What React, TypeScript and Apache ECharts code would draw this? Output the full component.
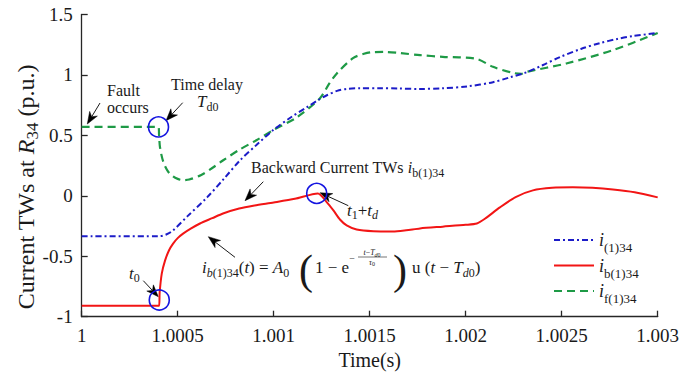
import React, { useEffect, useRef } from "react";
import * as echarts from "echarts";

const FONT = "'Liberation Serif', 'Times New Roman', Times, serif";
const INK = "#1a1a1a";

// ---- data (time in s, current TW in p.u.) ----
const blueT = [1, 1.0004, 1.00044, 1.000475, 1.00055, 1.000653, 1.00074, 1.000825, 1.00091, 1.000996, 1.00109, 1.001173, 1.00123, 1.001277, 1.00133, 1.001382, 1.00145, 1.00155, 1.00165, 1.00176, 1.00188, 1.002007, 1.002142, 1.00223, 1.002319, 1.0024, 1.002491, 1.0026, 1.0027, 1.00279, 1.002871, 1.003];
const blueV = [-0.335, -0.335, -0.32, -0.287, -0.17, -0.013, 0.14, 0.294, 0.42, 0.542, 0.65, 0.733, 0.79, 0.832, 0.868, 0.885, 0.89, 0.89, 0.888, 0.884, 0.89, 0.905, 0.94, 0.98, 1.023, 1.08, 1.148, 1.215, 1.264, 1.298, 1.322, 1.347];

const redT = [1, 1.000403, 1.000406, 1.000417, 1.000434, 1.000455, 1.000476, 1.0005, 1.000528, 1.00057, 1.000616, 1.00068, 1.000736, 1.00082, 1.0009, 1.001, 1.00111, 1.00123, 1.001276, 1.001311, 1.001345, 1.00138, 1.001432, 1.001519, 1.001621, 1.00169, 1.001762, 1.00188, 1.002, 1.002058, 1.0021, 1.002178, 1.00226, 1.00235, 1.00245, 1.002558, 1.00266, 1.002767, 1.00288, 1.003];
const redV = [-0.909, -0.909, -0.8, -0.643, -0.536, -0.45, -0.395, -0.35, -0.313, -0.27, -0.229, -0.185, -0.146, -0.105, -0.08, -0.055, -0.025, 0.02, -0.052, -0.121, -0.196, -0.245, -0.279, -0.293, -0.295, -0.285, -0.27, -0.255, -0.24, -0.229, -0.19, -0.096, -0.01, 0.045, 0.066, 0.07, 0.066, 0.053, 0.03, -0.013];

const greenT = [1, 1.0004, 1.000403, 1.000408, 1.000425, 1.00045, 1.000476, 1.0005, 1.000528, 1.00056, 1.00062, 1.00068, 1.000737, 1.00082, 1.00091, 1.000996, 1.001121, 1.001241, 1.00129, 1.00133, 1.001413, 1.00147, 1.001517, 1.00158, 1.001658, 1.001762, 1.00188, 1.002056, 1.002142, 1.002246, 1.00229, 1.002318, 1.002524, 1.002768, 1.003];
const greenV = [0.57, 0.57, 0.5, 0.4, 0.28, 0.2, 0.16, 0.14, 0.13, 0.135, 0.17, 0.23, 0.294, 0.38, 0.46, 0.542, 0.65, 0.808, 0.93, 1.015, 1.139, 1.175, 1.189, 1.19, 1.181, 1.164, 1.15, 1.133, 1.067, 1.017, 1.01, 1.026, 1.095, 1.206, 1.347];

const seriesNames = ["i(1)34", "ib(1)34", "if(1)34"];
const legendLabels = ["{i|i}{s|(1)34}", "{i|i}{s|b(1)34}", "{i|i}{s|f(1)34}"];

// annotation anchor points (data coords)
const circlePts: [number, number][] = [[1.0004, 0.57], [1.000404, -0.862], [1.001224, 0.02]];

const zip = (t: number[], v: number[]) => t.map((x, i) => [x, v[i]]);

function richSet(F: number, S: number, P: number) {
  const base = { fontFamily: FONT, fill: INK, color: INK };
  return {
    n: { ...base, fontSize: F, lineHeight: F, verticalAlign: "top" },
    it: { ...base, fontSize: F, lineHeight: F, verticalAlign: "top", fontStyle: "italic" },
    s: { ...base, fontSize: S, lineHeight: S, verticalAlign: "top", padding: [P, 0, 0, 0] },
    si: { ...base, fontSize: S, lineHeight: S, verticalAlign: "top", padding: [P, 0, 0, 0], fontStyle: "italic" },
  };
}

function rtext(x: number, yCenter: number, F: number, S: number, P: number, text: string, align = "left") {
  return {
    type: "text",
    x,
    y: yCenter - F / 2,
    silent: true,
    style: {
      text,
      rich: richSet(F, S, P),
      align,
      textAlign: align,
      verticalAlign: "top",
      textVerticalAlign: "top",
      fill: INK,
      fontFamily: FONT,
      fontSize: F,
    },
  };
}

function ptext(x: number, y: number, size: number, text: string, opts: any = {}) {
  return {
    type: "text",
    x,
    y,
    silent: true,
    style: {
      text,
      fill: INK,
      fontFamily: FONT,
      fontSize: size,
      fontStyle: opts.italic ? "italic" : "normal",
      align: opts.align || "left",
      textAlign: opts.align || "left",
      verticalAlign: "middle",
      textVerticalAlign: "middle",
    },
  };
}

function arrow(x1: number, y1: number, x2: number, y2: number) {
  const dx = x2 - x1, dy = y2 - y1;
  const L = Math.hypot(dx, dy);
  const ux = dx / L, uy = dy / L;
  const px = -uy, py = ux;
  const hl = 12, hw = 4.5, notch = 8.5;
  const bx = x2 - ux * hl, by = y2 - uy * hl;
  const nx = x2 - ux * notch, ny = y2 - uy * notch;
  return [
    { type: "line", silent: true, shape: { x1, y1, x2: nx, y2: ny }, style: { stroke: INK, lineWidth: 1 } },
    {
      type: "polygon",
      silent: true,
      shape: { points: [[x2, y2], [bx + px * hw, by + py * hw], [nx, ny], [bx - px * hw, by - py * hw]] },
      style: { fill: "#000", stroke: "#000", lineWidth: 0.5 },
    },
  ];
}

export default function App() {
  const ref = useRef<HTMLDivElement>(null);
  useEffect(() => {
    const chart = echarts.init(ref.current!, null, { renderer: "svg" });
    const axisStyle = { lineStyle: { color: "#262626", width: 1.3 } };
    const option: any = {
      animation: false,
      backgroundColor: "#ffffff",
      grid: { left: 81.7, right: 39.3, top: 14.5, bottom: 61.3, containLabel: false },
      xAxis: {
        type: "value",
        min: 1,
        max: 1.003,
        interval: 0.0005,
        name: "Time(s)",
        nameLocation: "middle",
        nameGap: 30,
        nameTextStyle: { fontFamily: FONT, fontSize: 20, color: INK },
        axisLine: { show: true, onZero: false, ...axisStyle },
        axisTick: { show: true, inside: true, length: 6, lineStyle: { color: "#262626", width: 1.3 } },
        axisLabel: {
          fontFamily: FONT,
          fontSize: 19,
          color: INK,
          margin: 9,
          formatter: (v: number) => String(parseFloat(v.toFixed(4))),
        },
        splitLine: { show: false },
      },
      yAxis: {
        type: "value",
        min: -1,
        max: 1.5,
        interval: 0.5,
        axisLine: { show: true, onZero: false, ...axisStyle },
        axisTick: { show: true, inside: true, length: 6, lineStyle: { color: "#262626", width: 1.3 } },
        axisLabel: {
          fontFamily: FONT,
          fontSize: 19,
          color: INK,
          margin: 9,
          formatter: (v: number) => String(parseFloat(v.toFixed(2))),
        },
        splitLine: { show: false },
      },
      legend: {
        orient: "vertical",
        left: 548,
        top: 226,
        itemWidth: 40,
        itemHeight: 14,
        itemGap: 2.5,
        data: seriesNames,
        itemStyle: { opacity: 0, borderWidth: 0 },
        formatter: (name: string) => legendLabels[seriesNames.indexOf(name)],
        textStyle: {
          rich: {
            i: { fontFamily: FONT, fontSize: 18, lineHeight: 18, verticalAlign: "top", fontStyle: "italic", color: INK },
            s: { fontFamily: FONT, fontSize: 13, lineHeight: 13, verticalAlign: "top", padding: [10, 0, 0, 0], color: INK },
          },
        },
      },
      series: [
        {
          name: seriesNames[0],
          type: "line",
          data: zip(blueT, blueV),
          symbol: "none",
          smooth: 0.3,
          lineStyle: { color: "#1c1cc8", width: 2, type: [6, 3, 2, 3] },
          itemStyle: { color: "#1c1cc8" },
          z: 3,
        },
        {
          name: seriesNames[1],
          type: "line",
          data: zip(redT, redV),
          symbol: "none",
          smooth: 0.25,
          lineStyle: { color: "#f21515", width: 2, type: "solid" },
          itemStyle: { color: "#f21515" },
          z: 4,
        },
        {
          name: seriesNames[2],
          type: "line",
          data: zip(greenT, greenV),
          symbol: "none",
          smooth: 0.3,
          lineStyle: { color: "#1e9a46", width: 2.2, type: [8, 5] },
          itemStyle: { color: "#1e9a46" },
          z: 2,
        },
      ],
    };
    chart.setOption(option);

    const circles = circlePts.map((p) => {
      const [cx, cy] = chart.convertToPixel({ gridIndex: 0 }, p) as number[];
      return {
        type: "circle",
        silent: true,
        z: 100,
        shape: { cx, cy, r: 10 },
        style: { fill: "none", stroke: "#1515e0", lineWidth: 1.6 },
      };
    });

    const graphics: any[] = [
      // y axis name
      {
        type: "text",
        x: 26,
        y: 187,
        rotation: Math.PI / 2,
        silent: true,
        style: {
          text: "{n|Current TWs at\u00a0}{it|R}{s|34}{n|\u00a0(p.u.)}",
          rich: richSet(24, 17, 10),
          align: "center",
          textAlign: "center",
          verticalAlign: "middle",
          textVerticalAlign: "middle",
          fill: INK,
          fontFamily: FONT,
        },
      },
      ptext(107, 90, 16, "Fault"),
      ptext(107, 107, 16, "occurs"),
      ptext(207, 84, 16, "Time delay", { align: "center" }),
      rtext(197, 101, 17, 12, 8, "{it|T}{s|d0}"),
      rtext(251, 167, 16, 12, 8, "{n|Backward Current TWs\u00a0}{it|i}{s|b(1)34}"),
      rtext(347, 210, 17, 12, 7, "{it|t}{s|1}{n|+}{it|t}{si|d}"),
      rtext(129, 273, 17, 12, 7, "{it|t}{s|0}"),
      // formula
      rtext(202, 267, 17, 12, 8.5, "{it|i}{si|b}{s|(1)34}{n|(}{it|t}{n|)\u00a0=\u00a0}{it|A}{s|0}"),
      ptext(306, 270, 42, "(", { align: "center" }),
      rtext(315, 267, 17, 12, 8, "{n|1\u00a0−\u00a0e}"),
      ptext(352, 258, 10, "−", { align: "center" }),
      rtext(372, 252.5, 8, 6, 3, "{it|t}{n|−}{it|T}{si|d}{s|0}", "center"),
      { type: "line", silent: true, shape: { x1: 358, y1: 257, x2: 387, y2: 257 }, style: { stroke: INK, lineWidth: 0.6 } },
      rtext(372, 262, 8, 6, 3, "{it|τ}{s|0}", "center"),
      ptext(400, 270, 42, ")", { align: "center" }),
      rtext(412, 267, 17, 12, 8, "{n|u\u00a0(}{it|t}{n|\u00a0−\u00a0}{it|T}{si|d}{s|0}{n|)}"),
      ...arrow(100, 103, 87.3, 124),
      ...arrow(182.7, 102.7, 166, 120.7),
      ...arrow(263.3, 181.7, 245, 200.7),
      ...arrow(348.3, 205.7, 320, 192.7),
      ...arrow(235, 257.3, 208.3, 236.7),
      ...arrow(143.3, 280.7, 158.3, 296.7),
      ...circles,
    ];
    chart.setOption({ graphic: { elements: graphics } });
    return () => chart.dispose();
  }, []);
  return <div ref={ref} style={{ position: "fixed", left: 0, top: 0, width: 697, height: 378 }} />;
}
